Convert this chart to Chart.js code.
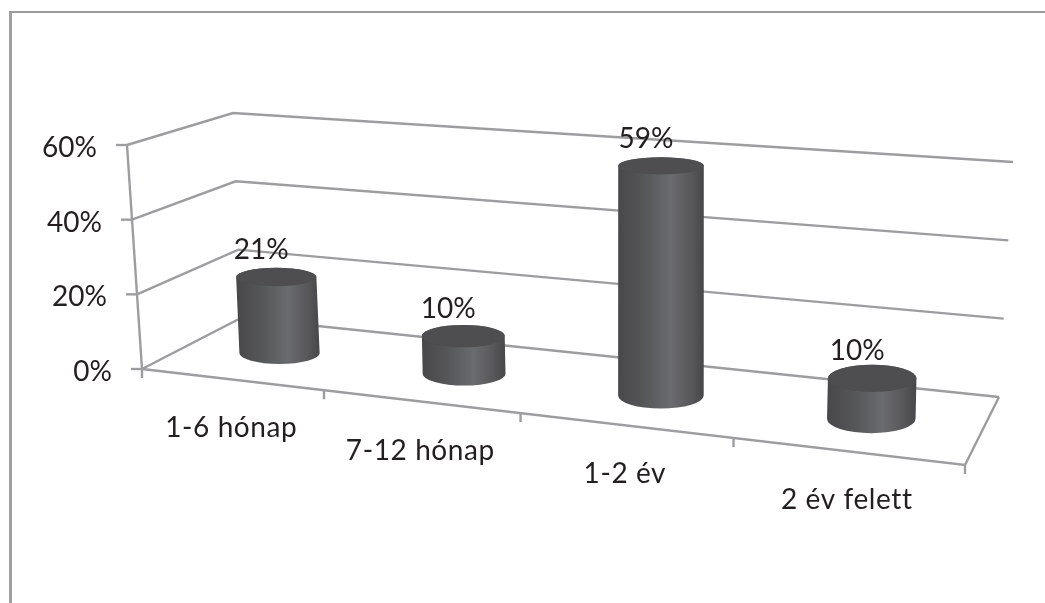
<!DOCTYPE html>
<html><head><meta charset="utf-8">
<style>
html,body{margin:0;padding:0;background:#fff;overflow:hidden}
#wrap{position:absolute;left:0;top:0;width:1045px;height:603px}
#frame{position:absolute;left:8.5px;top:11px;right:0;bottom:0;border-left:3px solid #a0a0a3;border-top:2.5px solid #9a9a9d;pointer-events:none}
canvas{position:absolute;left:0;top:0}
</style>
<script src="https://cdn.jsdelivr.net/npm/chart.js@4/dist/chart.umd.js"></script>
</head><body>
<div id="wrap"><canvas id="c" width="1045" height="603"></canvas><div id="frame"></div></div>
<script>
const categories = ['1-6 hónap', '7-12 hónap', '1-2 év', '2 év felett'];
const values = [21, 10, 59, 10];
const yTicks = [0, 20, 40, 60];

const FONT = '28px Lato, "Open Sans", sans-serif';
const TEXT = '#231f20', GRID = '#9d9da0';

// 3D frame of the plot: floor corners and the wall-height vector at each corner
const view = {
  FL:[142,369], FR:[965,465], BR:[999,397], BL:[241,318],
  hFL:[-15,-224], hFR:[2,-258], hBR:[14,-235], hBL:[-8,-205]
};
const lerp = (a,b,t)=>a+(b-a)*t;
const bilerp = (a,b,c,d,t,v,i)=>lerp(lerp(a[i],b[i],t),lerp(d[i],c[i],t),v);
const warp = (u,v)=>{ const p=.174-.068*v; return u/(1+p*(1-u)); };

function proj(u,v,f){
  const t=warp(u,v), V=view;
  return [
    bilerp(V.FL,V.FR,V.BR,V.BL,t,v,0)+bilerp(V.hFL,V.hFR,V.hBR,V.hBL,t,v,0)*f,
    bilerp(V.FL,V.FR,V.BR,V.BL,t,v,1)+bilerp(V.hFL,V.hFR,V.hBR,V.hBL,t,v,1)*f
  ];
}
function fracOf(chart,val){
  const y=chart.scales.y, b=y.getPixelForValue(y.min), top=y.getPixelForValue(y.max);
  return (b-y.getPixelForValue(val))/(b-top);
}
const uOf=(chart,px)=>(px-chart.chartArea.left)/chart.chartArea.width;
const ryAt=(x,y)=>2.6+.02*y+.004*x;

let activeChart=null;
class CylinderElement extends Chart.BarElement {
  draw(ctx){
    const chart=activeChart, u=uOf(chart,this.x), yS=chart.scales.y;
    const f=fracOf(chart,yS.getValueForPixel(this.y));
    const b=proj(u,.5,0), t=proj(u,.5,f);
    const rx=this.width/2*(1+.14*warp(u,.5));
    const ryB=ryAt(b[0],b[1]), ryT=ryAt(t[0],t[1]);
    const g=ctx.createLinearGradient(Math.min(b[0],t[0])-rx,0,Math.max(b[0],t[0])+rx,0);
    g.addColorStop(0,'#48484a'); g.addColorStop(.3,'#555658');
    g.addColorStop(.62,'#6a6b6e'); g.addColorStop(.85,'#58585b'); g.addColorStop(1,'#474749');
    ctx.save();
    ctx.beginPath();
    ctx.moveTo(t[0]-rx,t[1]);
    ctx.lineTo(b[0]-rx,b[1]);
    ctx.ellipse(b[0],b[1],rx,ryB,0,Math.PI,0,true);
    ctx.lineTo(t[0]+rx,t[1]);
    ctx.ellipse(t[0],t[1],rx,ryT,0,0,Math.PI,true);
    ctx.closePath();
    ctx.fillStyle=g; ctx.fill();
    ctx.beginPath();
    ctx.ellipse(t[0],t[1],rx,ryT,0,0,Math.PI*2);
    ctx.fillStyle='#4e4e50'; ctx.fill();
    ctx.restore();
  }
}
CylinderElement.id='cylinder';
class CylinderController extends Chart.BarController {}
CylinderController.id='cylinder3d';
CylinderController.defaults={...Chart.BarController.defaults,dataElementType:'cylinder'};
Chart.register(CylinderElement,CylinderController);

const walls={
  id:'walls',
  beforeDatasetsDraw(chart){
    activeChart=chart;
    const c=chart.ctx;
    const seg=(pts)=>{c.beginPath();pts.forEach((p,i)=>i?c.lineTo(p[0],p[1]):c.moveTo(p[0],p[1]));c.stroke();};
    c.save();
    c.strokeStyle=GRID;c.lineWidth=2.4;c.lineJoin='miter';
    // horizontal gridlines along side and back walls, with outer tick marks
    yTicks.forEach(v=>{
      const f=fracOf(chart,v), a=proj(0,0,f), bl=proj(0,1,f), br=proj(1,1,f);
      seg([a,bl,br]);
      seg([[a[0]-11,a[1]],a]);
    });
    // vertical axis
    seg([proj(0,0,0),proj(0,0,1)]);
    // floor outline
    seg([proj(0,0,0),proj(1,0,0),proj(1,1,0)]);
    // category ticks
    for(let i=0;i<=categories.length;i++){
      const p=proj(i/categories.length,0,0);
      seg([p,[p[0],p[1]+9]]);
    }
    c.fillStyle=TEXT;c.font=FONT;c.textBaseline='middle';
    c.textAlign='right';
    yTicks.forEach(v=>{
      const a=proj(0,0,fracOf(chart,v));
      c.fillText(v+'%',a[0]-30,a[1]+3);
    });
    c.textAlign='center';
    c.letterSpacing='0.6px';
    const xS=chart.scales.x;
    categories.forEach((l,i)=>{
      const p=proj(uOf(chart,xS.getPixelForValue(i)),0,0);
      c.fillText(l,p[0],p[1]+49);
    });
    c.restore();
  },
  afterDatasetsDraw(chart){
    const c=chart.ctx, xS=chart.scales.x;
    c.save();
    c.fillStyle=TEXT;c.font=FONT;c.textBaseline='middle';c.textAlign='center';
    values.forEach((v,i)=>{
      const t=proj(uOf(chart,xS.getPixelForValue(i)),.5,fracOf(chart,v));
      c.fillText(v+'%',t[0]-15,t[1]-27);
    });
    c.restore();
  }
};

new Chart(document.getElementById('c'),{
  type:'cylinder3d',
  data:{labels:categories,datasets:[{data:values,backgroundColor:'#58585b',categoryPercentage:1,barPercentage:.384,clip:false}]},
  plugins:[walls],
  options:{
    responsive:false,animation:false,
    layout:{padding:{left:142,right:80,top:145,bottom:234}},
    plugins:{legend:{display:false},tooltip:{enabled:false},title:{display:false}},
    scales:{
      x:{type:'category',display:false,offset:true},
      y:{type:'linear',display:false,min:0,max:60,ticks:{stepSize:20}}
    }
  }
});
</script>
</body></html>
